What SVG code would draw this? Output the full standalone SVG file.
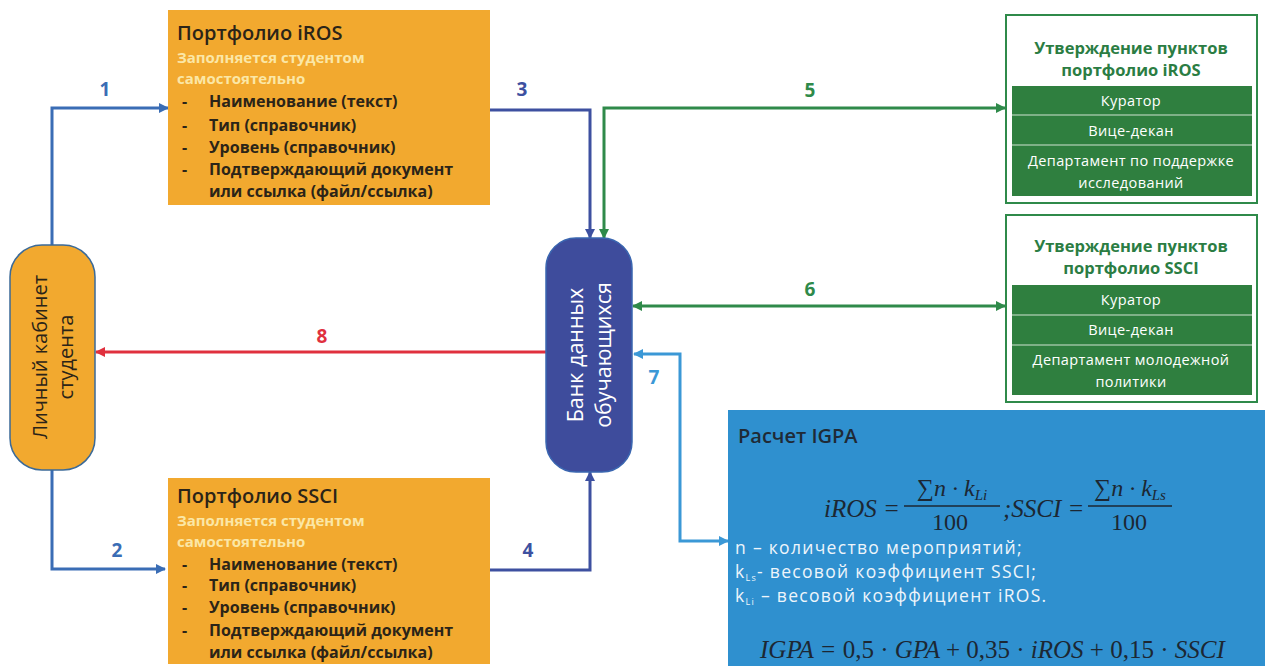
<svg xmlns="http://www.w3.org/2000/svg" width="1265" height="666" viewBox="0 0 1265 666">
<defs>
<style>
.t{font-family:"Open Sans","Noto Sans",sans-serif}
.otitle{font-size:20px;font-weight:600;fill:#2b2418}
.osub{font-size:15px;font-weight:700;fill:#fbe7a6}
.oitem{font-size:16px;font-weight:700;fill:#2b2418}
.gtitle{font-size:16.5px;font-weight:700;fill:#2b7d43;text-anchor:middle}
.grow{font-size:14.5px;fill:#ffffff;text-anchor:middle;letter-spacing:0.4px}
.num{font-size:19px;font-weight:700;text-anchor:middle}
.math{font-family:"Liberation Serif","DejaVu Serif",serif;font-style:italic;fill:#1c2733}
.up{font-style:normal}
.wt{font-size:17.5px;fill:#eef5fb;letter-spacing:1.3px}
.c{fill:none;stroke-width:3}
</style>
<marker id="aBlue" viewBox="0 0 10 10" refX="9" refY="5" markerWidth="10" markerHeight="10" markerUnits="userSpaceOnUse" orient="auto-start-reverse"><path d="M0,0 L10,5 L0,10 z" fill="#3a6db5"/></marker>
<marker id="aNavy" viewBox="0 0 10 10" refX="9" refY="5" markerWidth="10" markerHeight="10" markerUnits="userSpaceOnUse" orient="auto-start-reverse"><path d="M0,0 L10,5 L0,10 z" fill="#3d50a0"/></marker>
<marker id="aGreen" viewBox="0 0 10 10" refX="9" refY="5" markerWidth="10" markerHeight="10" markerUnits="userSpaceOnUse" orient="auto-start-reverse"><path d="M0,0 L10,5 L0,10 z" fill="#2f8a4a"/></marker>
<marker id="aLight" viewBox="0 0 10 10" refX="9" refY="5" markerWidth="10" markerHeight="10" markerUnits="userSpaceOnUse" orient="auto-start-reverse"><path d="M0,0 L10,5 L0,10 z" fill="#3b98d6"/></marker>
<marker id="aRed" viewBox="0 0 10 10" refX="9" refY="5" markerWidth="10" markerHeight="10" markerUnits="userSpaceOnUse" orient="auto-start-reverse"><path d="M0,0 L10,5 L0,10 z" fill="#e0303e"/></marker>
</defs>
<rect width="1265" height="666" fill="#ffffff"/>

<g id="connectors">
<path class="c" d="M52,246 V108 H168" stroke="#3a6db5" marker-end="url(#aBlue)"/>
<path class="c" d="M52,469 V569 H165" stroke="#3a6db5" marker-end="url(#aBlue)"/>
<path class="c" d="M490,110 H590 V238" stroke="#3d50a0" marker-end="url(#aNavy)"/>
<path class="c" d="M490,570 H590 V472" stroke="#3d50a0" marker-end="url(#aNavy)"/>
<path class="c" d="M604,238 V108 H1005" stroke="#2f8a4a" marker-start="url(#aGreen)" marker-end="url(#aGreen)"/>
<path class="c" d="M633,306 H1005" stroke="#2f8a4a" marker-start="url(#aGreen)" marker-end="url(#aGreen)"/>
<path class="c" d="M634,354 H680 V541 H728" stroke="#3b98d6" marker-start="url(#aLight)" marker-end="url(#aLight)"/>
<path class="c" d="M546,352 H96" stroke="#e0303e" marker-end="url(#aRed)"/>
<text class="t num" x="105" y="96" fill="#3a6db5">1</text>
<text class="t num" x="117" y="557" fill="#3a6db5">2</text>
<text class="t num" x="522" y="96" fill="#3d50a0">3</text>
<text class="t num" x="528" y="557" fill="#3d50a0">4</text>
<text class="t num" x="810" y="97" fill="#2f8a4a">5</text>
<text class="t num" x="810" y="296" fill="#2f8a4a">6</text>
<text class="t num" x="654" y="384" fill="#3b98d6">7</text>
<text class="t num" x="322" y="343" fill="#e0303e">8</text>
</g>

<g id="cabinet">
<rect x="10" y="245" width="85" height="225" rx="32" fill="#f2a92f" stroke="#3b6a98" stroke-width="1.5"/>
<text class="t" transform="translate(52,357) rotate(-90)" text-anchor="middle" font-size="20" fill="#2b2418"><tspan x="0" y="-5">Личный кабинет</tspan><tspan x="0" y="21">студента</tspan></text>
</g>

<g id="bank">
<rect x="546" y="238" width="86" height="234" rx="30" fill="#3e4c9c" stroke="#3a66b0" stroke-width="1.5"/>
<text class="t" transform="translate(589,355) rotate(-90)" text-anchor="middle" font-size="21.5" fill="#ffffff"><tspan x="0" y="-6">Банк данных</tspan><tspan x="0" y="22">обучающихся</tspan></text>
</g>

<g id="portfolio-iros">
<rect x="168" y="10" width="322" height="195" fill="#f2a92f"/>
<text class="t otitle" x="177" y="40">Портфолио iROS</text>
<text class="t osub" x="177" y="63">Заполняется студентом</text>
<text class="t osub" x="177" y="84">самостоятельно</text>
<text class="t oitem"><tspan x="182" y="107">-</tspan><tspan x="209" y="107">Наименование (текст)</tspan><tspan x="182" y="131">-</tspan><tspan x="209" y="131">Тип (справочник)</tspan><tspan x="182" y="153">-</tspan><tspan x="209" y="153">Уровень (справочник)</tspan><tspan x="182" y="175">-</tspan><tspan x="209" y="175">Подтверждающий документ</tspan><tspan x="209" y="197">или ссылка (файл/ссылка)</tspan></text>
</g>

<g id="portfolio-ssci">
<rect x="168" y="478" width="322" height="186" fill="#f2a92f"/>
<text class="t otitle" x="177" y="503">Портфолио SSCI</text>
<text class="t osub" x="177" y="526">Заполняется студентом</text>
<text class="t osub" x="177" y="547">самостоятельно</text>
<text class="t oitem"><tspan x="182" y="570">-</tspan><tspan x="209" y="570">Наименование (текст)</tspan><tspan x="182" y="591">-</tspan><tspan x="209" y="591">Тип (справочник)</tspan><tspan x="182" y="613">-</tspan><tspan x="209" y="613">Уровень (справочник)</tspan><tspan x="182" y="636">-</tspan><tspan x="209" y="636">Подтверждающий документ</tspan><tspan x="209" y="658">или ссылка (файл/ссылка)</tspan></text>
</g>

<g id="approve-iros">
<rect x="1006" y="15" width="251" height="188" fill="#ffffff" stroke="#2f8a4a" stroke-width="2"/>
<text class="t gtitle" x="1131" y="54">Утверждение пунктов</text>
<text class="t gtitle" x="1131" y="76">портфолио iROS</text>
<rect x="1012" y="86" width="240" height="110" fill="#2f7f3f"/>
<line x1="1012" y1="115" x2="1252" y2="115" stroke="#cfe3d2" stroke-width="1.2"/>
<line x1="1012" y1="145" x2="1252" y2="145" stroke="#cfe3d2" stroke-width="1.2"/>
<text class="t grow" x="1131" y="106">Куратор</text>
<text class="t grow" x="1131" y="136">Вице-декан</text>
<text class="t grow" x="1131" y="166">Департамент по поддержке</text>
<text class="t grow" x="1131" y="188">исследований</text>
</g>

<g id="approve-ssci">
<rect x="1006" y="215" width="251" height="187" fill="#ffffff" stroke="#2f8a4a" stroke-width="2"/>
<text class="t gtitle" x="1131" y="252">Утверждение пунктов</text>
<text class="t gtitle" x="1131" y="274">портфолио SSCI</text>
<rect x="1012" y="285" width="240" height="110" fill="#2f7f3f"/>
<line x1="1012" y1="315" x2="1252" y2="315" stroke="#cfe3d2" stroke-width="1.2"/>
<line x1="1012" y1="345" x2="1252" y2="345" stroke="#cfe3d2" stroke-width="1.2"/>
<text class="t grow" x="1131" y="305">Куратор</text>
<text class="t grow" x="1131" y="335">Вице-декан</text>
<text class="t grow" x="1131" y="365">Департамент молодежной</text>
<text class="t grow" x="1131" y="387">политики</text>
</g>

<g id="igpa">
<rect x="728" y="410" width="537" height="256" fill="#2f90cf"/>
<text class="t" x="738" y="443" font-size="20" font-weight="600" fill="#1f2a36">Расчет IGPA</text>
<text class="math" x="900" y="517" font-size="25" text-anchor="end">iROS =</text>
<text class="math" x="952" y="496" font-size="24" text-anchor="middle"><tspan class="up">∑</tspan>n · k<tspan font-size="15" dy="4">Li</tspan></text>
<line x1="904" y1="506" x2="1000" y2="506" stroke="#1c2733" stroke-width="1.5"/>
<text class="math up" x="950" y="530" font-size="24" text-anchor="middle">100</text>
<text class="math" x="1003" y="517" font-size="25">;SSCI =</text>
<text class="math" x="1130" y="496" font-size="24" text-anchor="middle"><tspan class="up">∑</tspan>n · k<tspan font-size="15" dy="4">Ls</tspan></text>
<line x1="1088" y1="506" x2="1172" y2="506" stroke="#1c2733" stroke-width="1.5"/>
<text class="math up" x="1129" y="530" font-size="24" text-anchor="middle">100</text>
<text class="t wt" x="735" y="554">n – количество мероприятий;</text>
<text class="t wt" x="735" y="578">k<tspan font-size="9" dy="3">Ls</tspan><tspan dy="-3">- весовой коэффициент SSCI;</tspan></text>
<text class="t wt" x="735" y="602">k<tspan font-size="9" dy="3">Li</tspan><tspan dy="-3"> – весовой коэффициент iROS.</tspan></text>
<text class="math" x="760" y="658" font-size="25">IGPA = <tspan class="up">0,5 · </tspan>GPA <tspan class="up">+ 0,35 · </tspan>iROS <tspan class="up">+ 0,15 · </tspan>SSCI</text>
</g>
</svg>
